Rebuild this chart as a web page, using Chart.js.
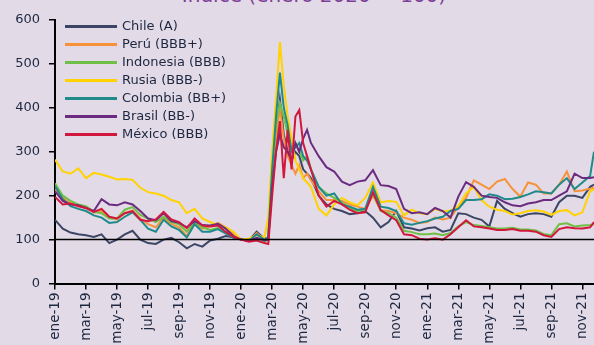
<!DOCTYPE html>
<html>
<head>
<meta charset="utf-8">
<script src="https://cdn.jsdelivr.net/npm/chart.js@4.4.0/dist/chart.umd.min.js"></script>
<style>
html, body { margin:0; padding:0; background:#e2dae6; overflow:hidden; }
#caja { position:relative; width:594px; height:345px; overflow:hidden; font-family:"DejaVu Sans", sans-serif; }
#titulo { position:absolute; left:0; width:628px; top:-15px; text-align:center; font-size:20px; line-height:20px; color:#7b3f98; white-space:nowrap; }
#grafico { position:absolute; left:0; top:0; }
#leyenda { position:absolute; left:65px; top:17px; font-size:13px; color:#1d2740; }
.fila { height:18px; position:relative; white-space:nowrap; }
.fila .linea { position:absolute; left:0; top:8px; width:52px; height:3px; }
.fila .txt { position:absolute; left:57px; top:0; line-height:18px; }
</style>
</head>
<body>
<div id="caja">
<div id="titulo">Índice (enero 2020 = 100)</div>
<canvas id="grafico" width="594" height="345"></canvas>
<div id="leyenda"></div>
</div>
<script>
// meses desde ene-19 (0 = ene-19)
var meses = [0,0.5,1,1.5,2,2.5,3,3.5,4,4.5,5,5.5,6,6.5,7,7.5,8,8.5,9,9.5,10,10.5,11,11.5,12,12.5,13,13.5,
  13.75,14,14.25,14.5,14.75,15,15.25,15.5,15.75,16,16.25,16.5,
  17,17.5,18,18.5,19,19.5,20,20.5,21,21.5,22,22.5,23,23.5,24,24.5,25,25.5,26,26.5,27,27.5,28,28.5,29,29.5,30,30.5,31,31.5,32,32.5,33,33.5,34,34.5,34.75];

var etiquetas = ['ene-19','mar-19','may-19','jul-19','sep-19','nov-19','ene-20','mar-20','may-20','jul-20','sep-20','nov-20','ene-21','mar-21','may-21','jul-21','sep-21','nov-21'];

var chile = [145,125,116,112,110,106,112,92,100,112,120,100,92,90,100,104,94,80,90,84,98,102,108,105,100,98,118,102,
  105,240,330,420,340,300,280,300,290,260,250,240,
  200,180,170,165,158,160,165,150,128,140,165,128,125,121,126,128,118,122,160,158,150,145,130,188,170,160,152,158,160,158,152,185,200,200,195,220,225];

var peru = [215,195,182,178,172,162,165,150,146,160,166,148,135,128,150,135,128,108,138,125,130,138,128,112,100,98,115,100,
  105,240,330,400,330,290,270,250,270,240,250,235,
  210,190,190,188,180,175,170,200,167,165,160,150,145,138,140,150,146,150,175,195,235,225,215,232,238,215,198,230,225,205,205,225,255,210,212,216,218];

var indonesia = [228,200,188,180,176,163,160,148,148,168,174,156,148,140,152,140,135,118,140,128,122,126,116,106,100,98,100,96,
  100,250,360,410,380,340,310,320,300,280,290,260,
  220,205,195,185,172,165,168,205,165,160,150,120,117,112,112,114,110,115,130,140,133,131,128,125,125,127,123,123,121,113,110,135,137,130,132,133,135];

var rusia = [282,255,250,262,240,252,248,243,237,238,236,218,208,205,200,190,185,160,170,148,140,132,128,118,100,102,110,105,
  150,300,420,550,450,380,330,280,260,240,230,220,
  170,155,180,195,185,178,195,230,185,188,186,155,168,160,158,170,164,166,176,205,220,190,175,168,165,157,160,165,167,164,156,165,167,155,162,210,215];

var colombia = [222,192,176,170,165,155,150,138,140,152,162,145,125,118,145,130,122,105,135,118,118,124,114,104,100,97,112,100,
  105,260,380,480,400,360,300,310,320,290,280,260,
  220,200,205,180,175,168,170,220,175,172,165,137,134,138,142,148,152,165,170,190,190,192,203,200,192,193,197,203,210,208,205,225,240,215,230,245,300];

var brasil = [210,188,180,178,172,165,192,180,178,185,180,165,148,144,160,142,138,128,142,133,132,136,125,108,100,97,104,98,
  100,220,300,340,310,300,280,320,300,330,350,320,
  290,265,255,232,224,232,235,258,224,222,215,170,160,162,158,172,165,150,198,231,220,200,197,195,185,178,176,182,185,190,190,200,210,250,240,240,242];

var mexico = [197,180,182,176,172,163,170,152,148,160,165,145,142,146,163,146,140,126,148,132,130,132,118,106,100,95,98,92,
  90,200,300,370,240,350,260,380,395,320,290,260,
  200,175,188,180,168,160,162,208,167,155,144,112,110,102,100,103,100,112,128,144,130,128,125,122,122,124,120,120,118,110,106,124,128,126,125,128,140];

var nombres = ['Chile (A)','Perú (BBB+)','Indonesia (BBB)','Rusia (BBB-)','Colombia (BB+)','Brasil (BB-)','México (BBB)'];
var colores = ['#3b4667','#f7923a','#70bf46','#ffd200','#1e8b8a','#6b2c80','#d2173f'];
var series = [chile, peru, indonesia, rusia, colombia, brasil, mexico];
var valorBase = 100;

var datasets = series.map(function (s, i) {
  return {
    label: nombres[i],
    data: s.map(function (v, j) { return {x: meses[j], y: v}; }),
    borderColor: colores[i],
    backgroundColor: colores[i],
    borderWidth: 2,
    pointRadius: 0,
    tension: 0,
    order: series.length - 1 - i
  };
});

// leyenda en html
var ley = document.getElementById('leyenda');
nombres.forEach(function (n, i) {
  var f = document.createElement('div');
  f.className = 'fila';
  f.innerHTML = '<span class="linea" style="background:' + colores[i] + '"></span><span class="txt">' + n + '</span>';
  ley.appendChild(f);
});

var lineaBase = {
  id: 'lineaBase',
  afterDatasetsDraw: function (chart) {
    var ctx = chart.ctx, a = chart.chartArea;
    var y = chart.scales.y.getPixelForValue(valorBase);
    ctx.save();
    ctx.strokeStyle = '#000';
    ctx.lineWidth = 1.5;
    ctx.beginPath();
    ctx.moveTo(a.left, y);
    ctx.lineTo(a.right, y);
    ctx.stroke();
    ctx.restore();
  }
};

var txtColor = '#1d2740';
new Chart(document.getElementById('grafico'), {
  type: 'line',
  data: { datasets: datasets },
  options: {
    responsive: false,
    animation: false,
    layout: { padding: { top: 20, left: 0, right: 0, bottom: 0 } },
    plugins: { legend: { display: false }, tooltip: { enabled: false } },
    scales: {
      x: {
        type: 'linear',
        min: 0,
        max: 34.75,
        afterFit: function (s) { s.height = 61.5; s.paddingLeft = 0; s.paddingRight = 0; },
        ticks: {
          stepSize: 2,
          includeBounds: false,
          autoSkip: false,
          minRotation: 90,
          maxRotation: 90,
          padding: 3,
          color: txtColor,
          font: { family: 'DejaVu Sans', size: 13.5 },
          callback: function (v) { return etiquetas[Math.round(v / 2)]; }
        },
        grid: { drawOnChartArea: false, color: '#000', tickLength: 6, lineWidth: 1.5 },
        border: { color: '#000', width: 2 }
      },
      y: {
        min: 0,
        max: 600,
        afterFit: function (s) { s.width = 55; },
        ticks: {
          stepSize: 100,
          padding: 9,
          color: txtColor,
          font: { family: 'DejaVu Sans', size: 13 }
        },
        grid: { drawOnChartArea: false, color: '#000', tickLength: 6, lineWidth: 1.5 },
        border: { color: '#000', width: 2 }
      }
    }
  },
  plugins: [lineaBase]
});
</script>
</body>
</html>
